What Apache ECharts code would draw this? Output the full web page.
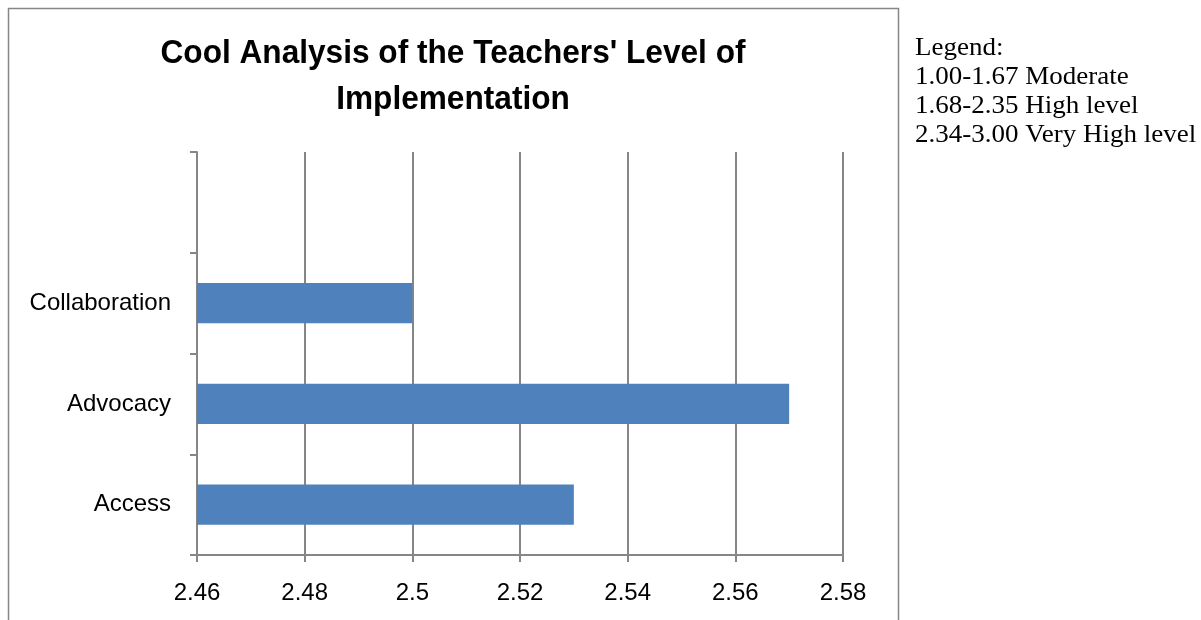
<!DOCTYPE html>
<html>
<head>
<meta charset="utf-8">
<script src="https://cdn.jsdelivr.net/npm/echarts@6/dist/echarts.min.js"></script>
<style>
html,body{margin:0;padding:0;background:#fff;}
#c{width:1201px;height:620px;}
</style>
</head>
<body>
<div id="c"></div>
<script>
const categories = ['Access', 'Advocacy', 'Collaboration', ''];
const values = [2.53, 2.57, 2.50, null];
const xTicks = { min: 2.46, max: 2.58, interval: 0.02 };
const titleText = "Cool Analysis of the Teachers' Level of\nImplementation";
const legendLines = ['Legend:', '1.00-1.67 Moderate', '1.68-2.35 High level', '2.34-3.00 Very High level'];

const chart = echarts.init(document.getElementById('c'), null, {renderer: 'canvas'});
const sans = '"Liberation Sans", Arial, sans-serif';
const gray = '#868686';
chart.setOption({
  animation: false,
  backgroundColor: '#fff',
  graphic: [
    { type: 'rect', shape: { x: 8.5, y: 8.5, width: 890, height: 640 }, style: { fill: null, stroke: gray, lineWidth: 1.5 }, z: 0 },
    { type: 'text', x: 453, y: 31, scaleX: 0.93, style: { text: titleText, align: 'center', verticalAlign: 'top', fontFamily: sans, fontWeight: 'bold', fontSize: 34, lineHeight: 46, fill: '#000' } },
    { type: 'text', x: 915, y: 34, scaleX: 1.08, style: { text: legendLines.join('\n'), verticalAlign: 'top', fontFamily: '"Liberation Serif", "Times New Roman", serif', fontSize: 25, lineHeight: 29, fill: '#000' } }
  ],
  grid: { left: 197, right: 358, top: 152, bottom: 65, containLabel: false },
  xAxis: {
    type: 'value', min: xTicks.min, max: xTicks.max, interval: xTicks.interval,
    axisLine: { show: true, lineStyle: { color: gray, width: 2 } },
    axisTick: { show: true, length: 7, lineStyle: { color: gray, width: 2 } },
    splitLine: { show: true, lineStyle: { color: gray, width: 2 } },
    axisLabel: { color: '#000', fontFamily: sans, fontSize: 24, margin: 26 }
  },
  yAxis: {
    type: 'category', data: categories,
    axisLine: { show: true, lineStyle: { color: gray, width: 2 } },
    axisTick: { show: true, length: 7, lineStyle: { color: gray, width: 2 } },
    axisLabel: { color: '#000', fontFamily: sans, fontSize: 24, margin: 26 }
  },
  series: [{
    type: 'bar', data: values, barWidth: '40%',
    itemStyle: { color: '#4F81BD' }
  }]
});
</script>
</body>
</html>
